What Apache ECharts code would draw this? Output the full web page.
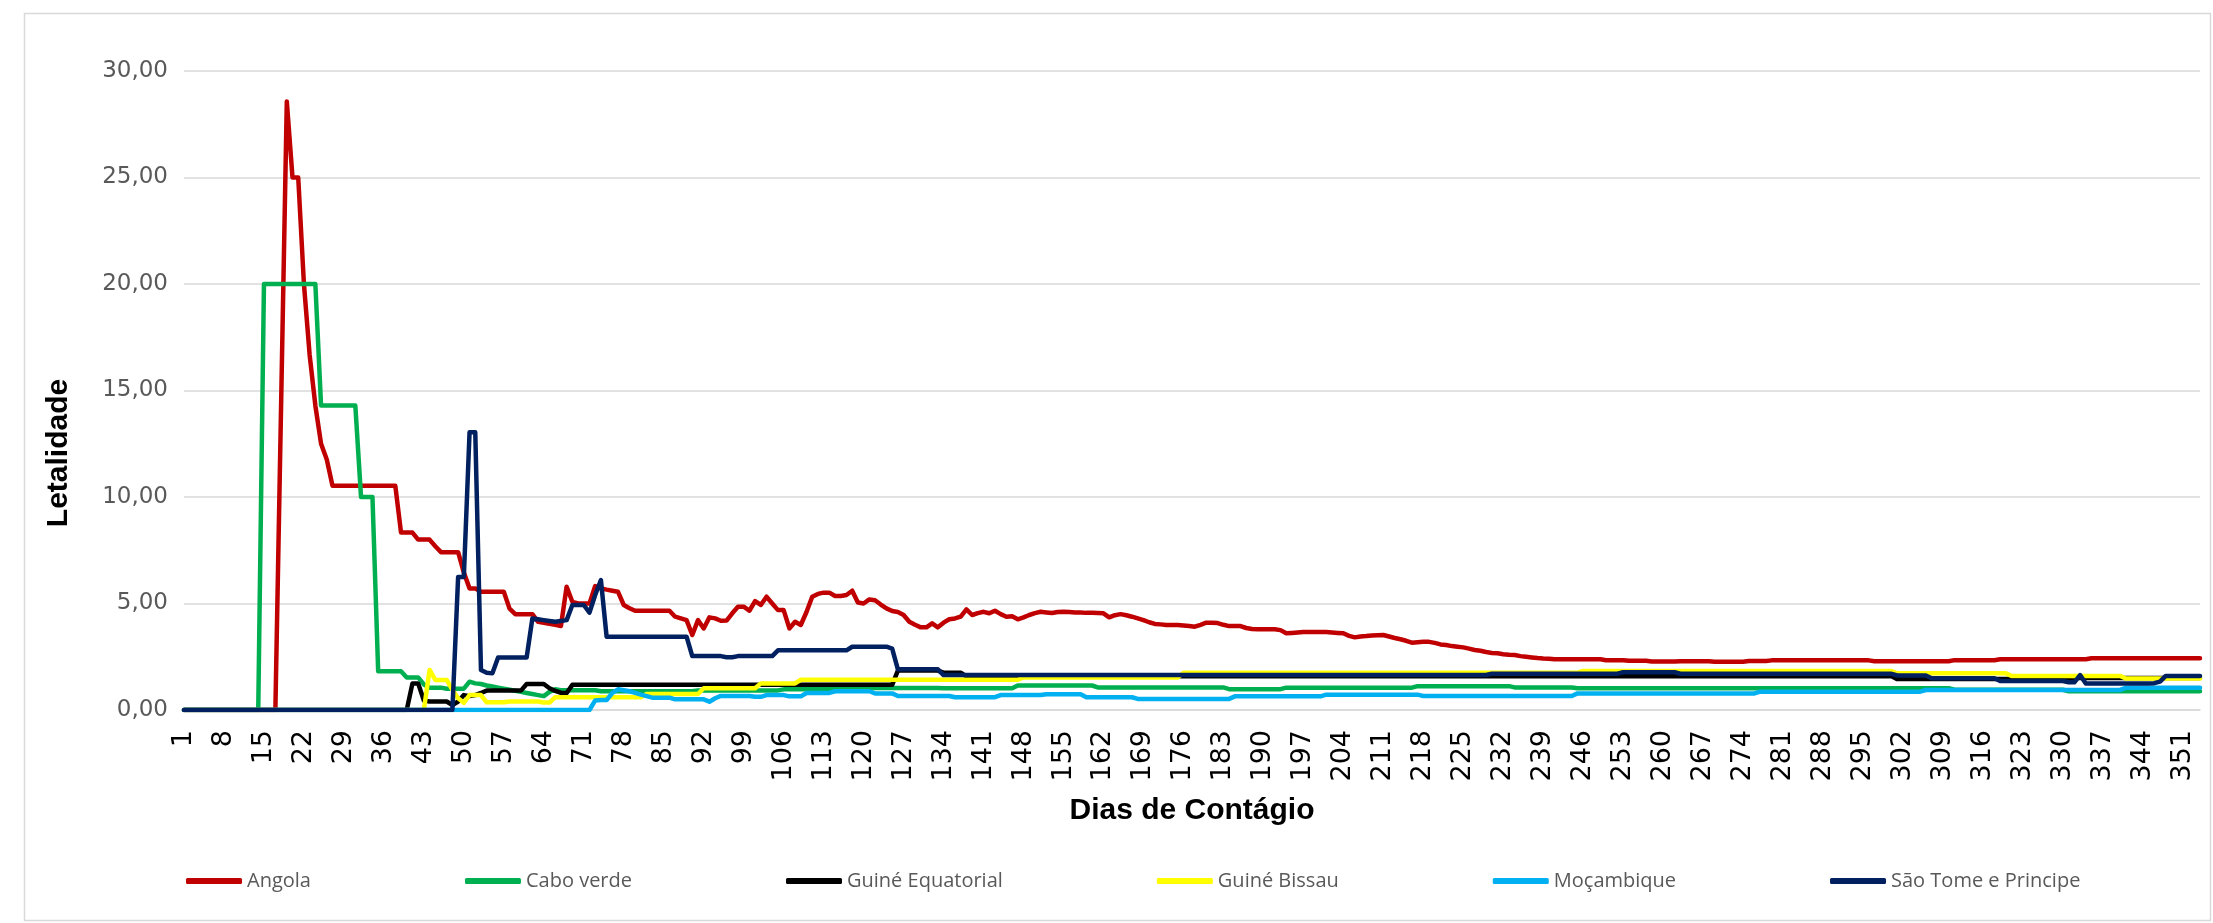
<!DOCTYPE html>
<html>
<head>
<meta charset="utf-8">
<title>Letalidade</title>
<script src="https://cdn.jsdelivr.net/npm/echarts@6/dist/echarts.min.js"></script>
<style>
  html, body { margin: 0; padding: 0; background: #fff; }
  #chart { width: 2213px; height: 923px; }
</style>
</head>
<body>
<div id="chart"></div>
<script>
// dias de contágio 1..354
var days = [];
for (var d = 1; d <= 354; d++) days.push(String(d));

var names = ['Angola', 'Cabo verde', 'Guiné Equatorial', 'Guiné Bissau', 'Moçambique', 'São Tome e Principe'];
var colors = ['#C00000', '#00B050', '#000000', '#FFFF00', '#00B0F0', '#002060'];

// valores: número = um dia, [valor, n] = n dias seguidos com o mesmo valor
var angola = [[0, 17], 14.29, 28.57, [25, 2], 20, 16.67, 14.29, 12.5, 11.76, [10.53, 12], [8.33, 3], [8, 3], 7.69, [7.41, 4],
  6.45, [5.71, 2], [5.55, 5], 4.76, [4.5, 4], 4.14, 4.1, 4.05, 4.0, 3.94, 5.79, 5.08, 5.0, 5.0, 5.0, 5.82, 5.71, 5.65, 5.6,
  5.55, 4.93, 4.78, [4.66, 7], 4.38, 4.3, 4.22, 3.52, 4.22, 3.83, 4.35, 4.3, 4.19, 4.2, 4.54, 4.85, 4.85, 4.66, 5.11, 4.93,
  5.32, 5.0, 4.69, 4.69, 3.83, 4.14, 3.99, 4.6, 5.32, 5.45, 5.51, 5.51, 5.35, 5.35, 5.4, 5.6, 5.05, 5.0, 5.19, 5.15, 4.95,
  4.77, 4.65, 4.6, 4.46, 4.14, 4.0, 3.88, 3.88, 4.07, 3.88, 4.1, 4.26, 4.3, 4.38, 4.72, 4.46, 4.55, 4.61, 4.54, 4.66, 4.5,
  4.38, 4.4, 4.26, 4.35, 4.46, 4.55, 4.61, 4.58, 4.55, 4.6, 4.61, 4.6, 4.58, 4.58, 4.56, 4.56, 4.55, 4.54, 4.35, 4.45, 4.5,
  4.45, 4.38, 4.3, 4.22, 4.12, 4.04, 4.02, 3.99, 3.99, 3.99, 3.97, 3.94, 3.91, 4.0, 4.1, 4.1, 4.08, 4.0, 3.94, 3.94, 3.94,
  3.85, 3.8, 3.79, 3.79, 3.79, 3.79, 3.75, 3.6, 3.62, 3.64, [3.66, 5], 3.64, 3.62, 3.6, 3.48, 3.41, 3.45, 3.47, 3.5, 3.51,
  3.52, 3.45, 3.38, 3.32, 3.25, 3.16, 3.18, 3.2, 3.2, 3.15, 3.08, 3.05, 3.0, 2.97, 2.94, 2.88, 2.82, 2.78, 2.72, 2.68, 2.66,
  2.62, 2.59, 2.58, 2.53, 2.5, 2.47, 2.44, 2.42, 2.41, [2.38, 9], [2.34, 4], [2.31, 4], [2.28, 5], [2.29, 6], [2.27, 6],
  [2.3, 4], [2.33, 18], [2.29, 14], [2.34, 8], [2.38, 16], [2.43, 20]];

var caboVerde = [[0, 14], [20, 10], [14.29, 7], [10, 3], [1.82, 5], [1.53, 3], 1.2, [1.05, 3], [1.0, 4], 1.33, 1.25, 1.22,
  1.15, 1.1, 1.05, 1.0, 0.95, 0.9, 0.85, 0.8, 0.75, 0.7, 0.65, 0.85, 0.97, [0.93, 7], [0.88, 17], [0.92, 15], [0.97, 13],
  [1.03, 15], [1.02, 13], [1.15, 14], [1.06, 23], [0.98, 10], [1.05, 23], [1.12, 17], [1.06, 11], [1.02, 66], [0.95, 20],
  [0.88, 24]];

var guineEquatorial = [[0, 40], 1.25, 1.25, 0.45, 0.4, 0.4, 0.4, 0.4, 0.23, 0.4, 0.7, 0.65, 0.7, 0.8, [0.91, 7], [1.22, 4],
  1.02, 0.9, 0.81, 0.8, [1.18, 57], [1.85, 8], [1.75, 4], [1.58, 163], [1.45, 30], [1.5, 24]];

var guineBissau = [[0, 43], 1.88, [1.41, 3], 0.95, 0.55, 0.34, [0.7, 3], [0.36, 4], [0.4, 6], [0.35, 2], [0.6, 16],
  [0.75, 10], [1.02, 10], [1.25, 7], [1.42, 39], [1.53, 28], [1.75, 70], [1.83, 55], [1.72, 20], [1.6, 20], [1.48, 14]];

var mocambique = [[0, 72], 0.45, 0.47, 0.47, 0.8, 0.97, 0.93, 0.88, 0.8, 0.72, 0.65, [0.58, 4], [0.5, 6], 0.39, 0.55,
  [0.66, 6], [0.62, 2], [0.7, 4], [0.64, 3], [0.8, 5], [0.88, 7], [0.78, 4], [0.66, 10], [0.6, 8], [0.7, 8], [0.74, 7],
  [0.6, 9], [0.52, 17], [0.64, 16], [0.72, 17], [0.66, 27], [0.78, 32], [0.86, 29], [0.94, 35], [1.04, 14]];

var saoTome = [[0, 48], [6.25, 2], [13.04, 2], 1.88, 1.75, 1.72, [2.47, 6], 4.3, 4.26, 4.22, 4.18, 4.14, 4.18, 4.22,
  [4.93, 3], 4.57, 5.4, 6.1, [3.44, 15], [2.53, 6], [2.48, 2], [2.53, 7], [2.8, 13], [2.97, 7], 2.88, [1.91, 8], [1.64, 5],
  [1.64, 91], [1.7, 23], [1.77, 10], [1.7, 38], [1.62, 6], [1.49, 12], [1.36, 12], [1.3, 2], 1.64, [1.24, 12], 1.26, 1.33,
  [1.6, 7]];

function expand(list) {
  var out = [];
  list.forEach(function (item) {
    if (Array.isArray(item)) {
      for (var i = 0; i < item[1]; i++) out.push(item[0]);
    } else {
      out.push(item);
    }
  });
  return out;
}

var allData = [angola, caboVerde, guineEquatorial, guineBissau, mocambique, saoTome];

var chart = echarts.init(document.getElementById('chart'));

var series = allData.map(function (list, i) {
  return {
    name: names[i],
    type: 'line',
    data: expand(list),
    symbol: 'none',
    showSymbol: false,
    lineStyle: { width: 4.5, color: colors[i], cap: 'round', join: 'round' },
    itemStyle: { color: colors[i] }
  };
});

var option = {
  animation: false,
  backgroundColor: '#fff',
  grid: { left: 184, right: 13, top: 71, bottom: 213 },
  legend: {
    data: names,
    left: 181,
    top: 866,
    icon: 'roundRect',
    itemWidth: 56,
    itemHeight: 6,
    itemGap: 154,
    textStyle: { fontFamily: 'Open Sans', fontSize: 20, color: '#595959' }
  },
  xAxis: {
    type: 'category',
    data: days,
    boundaryGap: false,
    axisTick: { show: false },
    axisLine: { show: true, lineStyle: { color: '#d9d9d9', width: 1.5 } },
    axisLabel: {
      interval: 6,
      rotate: 90,
      margin: 20,
      fontFamily: 'DejaVu Sans',
      fontSize: 27,
      color: '#000'
    },
    splitLine: { show: false }
  },
  yAxis: {
    type: 'value',
    min: 0,
    max: 30,
    interval: 5,
    axisLine: { show: false },
    axisTick: { show: false },
    axisLabel: {
      margin: 16,
      fontFamily: 'DejaVu Sans',
      fontSize: 23,
      color: '#595959',
      formatter: function (v) { return v.toFixed(2).replace('.', ','); }
    },
    splitLine: { lineStyle: { color: '#d9d9d9', width: 1.5 } }
  },
  graphic: [
    {
      type: 'rect',
      left: 22, top: 11, z: -1,
      shape: { width: 2186, height: 907 },
      style: { fill: 'none', stroke: '#d9d9d9', lineWidth: 1.5 }
    },
    {
      type: 'text',
      x: 59, y: 453,
      rotation: Math.PI / 2,
      style: {
        text: 'Letalidade',
        font: 'bold 30px "Liberation Sans", Arial, sans-serif',
        fill: '#000',
        align: 'center',
        verticalAlign: 'middle'
      }
    },
    {
      type: 'text',
      x: 1192, y: 811,
      style: {
        text: 'Dias de Contágio',
        font: 'bold 30px "Liberation Sans", Arial, sans-serif',
        fill: '#000',
        align: 'center',
        verticalAlign: 'middle'
      }
    }
  ],
  series: series
};

chart.setOption(option);
</script>
</body>
</html>
